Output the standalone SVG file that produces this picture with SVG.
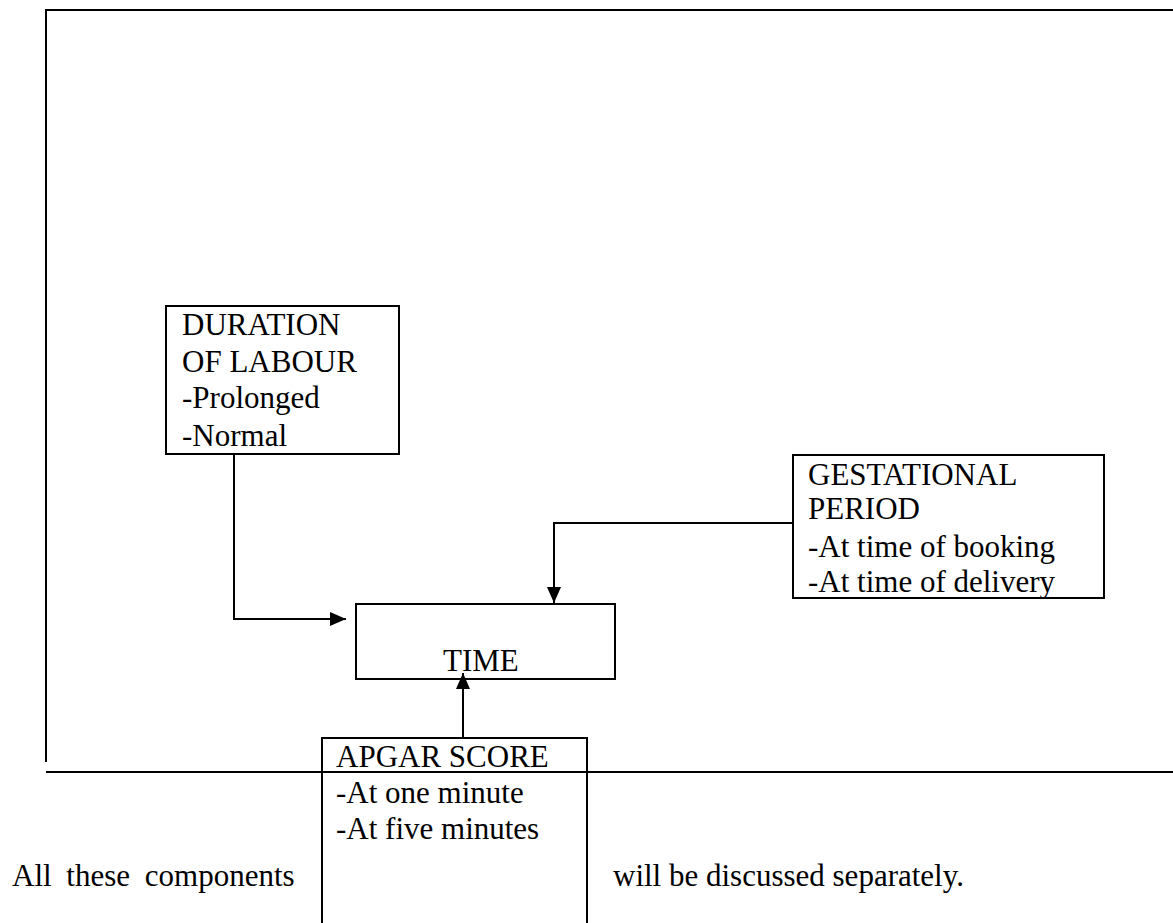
<svg xmlns="http://www.w3.org/2000/svg" width="1173" height="923" viewBox="0 0 1173 923">
<defs>
<style>
.box{fill:none;stroke:#000;stroke-width:2}
.ln{fill:none;stroke:#000;stroke-width:2}
</style>
<marker id="ah" markerWidth="16" markerHeight="14" refX="16" refY="7" orient="auto" markerUnits="userSpaceOnUse">
<path d="M0,0 L16,7 L0,14 Z" fill="#000"/>
</marker>
</defs>
<rect width="1173" height="923" fill="#fff"/>
<g id="frame">
<path class="ln" d="M46,762 V10 H1173"/>
<path class="ln" d="M46,772 H1173"/>
</g>
<g id="connectors">
<path class="ln" d="M234,454 V619 H346" marker-end="url(#ah)"/>
<path class="ln" d="M793,523 H554 V603" marker-end="url(#ah)"/>
<path class="ln" d="M463,738 V673" marker-end="url(#ah)"/>
</g>
<g font-family="'Liberation Serif', 'Times New Roman', Times, 'DejaVu Serif', serif" font-size="31" fill="#000">
<g id="duration">
<rect class="box" x="166" y="306" width="233" height="148"/>
<text x="182" y="335">DURATION</text>
<text x="182" y="372">OF LABOUR</text>
<text x="182" y="408">-Prolonged</text>
<text x="182" y="446">-Normal</text>
</g>
<g id="gestational">
<rect class="box" x="793" y="455" width="311" height="143"/>
<text x="808" y="485">GESTATIONAL</text>
<text x="808" y="519">PERIOD</text>
<text x="808" y="557">-At time of booking</text>
<text x="808" y="592">-At time of delivery</text>
</g>
<g id="time">
<rect class="box" x="356" y="604" width="259" height="75"/>
<text x="443" y="671">TIME</text>
</g>
<g id="apgar">
<path class="box" d="M322,930 V738 H587 V930"/>
<text x="336" y="767">APGAR SCORE</text>
<text x="336" y="803">-At one minute</text>
<text x="336" y="839">-At five minutes</text>
</g>
<g id="caption">
<text x="12" y="886" word-spacing="7">All these components</text>
<text x="613" y="886">will be discussed separately.</text>
</g>
</g>
</svg>
